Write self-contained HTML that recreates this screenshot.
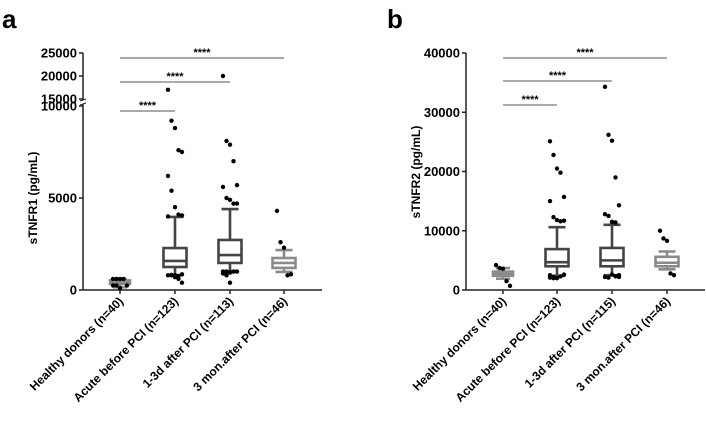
<!DOCTYPE html>
<html><head><meta charset="utf-8"><style>
body{margin:0;background:#fff;}
svg{display:block;font-family:"Liberation Sans",Arial,sans-serif;}
</style></head><body>
<svg id="c" width="706" height="421"></svg>
<script>
const categories=["Healthy donors (n=40)","Acute before PCI (n=123)","1-3d after PCI (n=113)","3 mon.after PCI (n=46)"];
const categoriesB=["Healthy donors (n=40)","Acute before PCI (n=123)","1-3d after PCI (n=115)","3 mon.after PCI (n=46)"];
// [whiskerLow, q1, median, q3, whiskerHigh]
const boxesA=[[150,330,400,520,600],[815,1250,1580,2280,3970],[1030,1470,1900,2720,4400],[980,1200,1470,1740,2170]];
const outliersA=[[600,600,600,600,250,250,250,100],[17000,9200,8800,7600,7500,6200,5400,4500,4100,4050,4000,800,800,750,850,800,820,700,600,400],[20000,8100,7900,7000,5700,5600,5000,4900,4700,4700,1000,1000,950,1000,1000,900,800,400],[4300,2600,2300,800,850]];
const boxesB=[[1900,2400,2700,3100,3700],[2400,4000,4700,6900,10600],[2500,4000,5000,7100,11000],[3500,4000,4600,5600,6500]];
const outliersB=[[4200,3700,3600,1500,700],[25100,22800,20500,19800,15700,15000,12300,11800,11600,11700,2500,2200,2000,2300,2600,2100,2000],[34300,26200,25200,19000,14300,12800,12500,11500,11400,2500,2200,2100,2600,2300,2200],[10000,8700,8300,2800,2500]];
const ticksA=[0,5000,10000,15000,20000,25000];
const ticksB=[0,10000,20000,30000,40000];
const sigA=[[0,3],[0,2],[0,1]];
const sigB=[[0,3],[0,2],[0,1]];
const NS="http://www.w3.org/2000/svg";
const svg=document.getElementById('c');
function mk(t,a,p){const e=document.createElementNS(NS,t);for(const k in a)e.setAttribute(k,a[k]);(p||svg).appendChild(e);return e;}
function yA(v){return v<=10000?290-v*0.0184:99-(v-15000)*0.0046;}
function yB(v){return 290-v*237/40000;}
function panel(letter,lx,axX,axEnd,xs,cats,boxes,outs,ticks,ys,title,sig,sigY){
  const g=mk('g',{});
  
  
  const L=mk('text',{x:lx,y:28,'font-size':26,'font-weight':'bold'},g);L.textContent=letter;
  
  
  const ax=mk('g',{},g);
  
  
  mk('line',{x1:axX,y1:ys(ticks[ticks.length-1]),x2:axX,y2:290,stroke:'#222','stroke-width':1.5},ax);
  ticks.forEach(t=>{const y=ys(t);mk('line',{x1:axX-4,y1:y,x2:axX,y2:y,stroke:'#222','stroke-width':1.5},ax);
    const tx=mk('text',{x:axX-6,y:y+4.5,'font-size':13,'font-weight':'bold','text-anchor':'end'},ax);tx.textContent=t;
    
    });
  if(letter==='a'){mk('rect',{x:axX-3,y:100,width:6,height:4,fill:'#fff'},ax);
    mk('line',{x1:axX-3,y1:101,x2:axX+3,y2:99,stroke:'#222'},ax);mk('line',{x1:axX-3,y1:105,x2:axX+3,y2:103,stroke:'#222'},ax);}
  const yt=mk('text',{x:0,y:0,'font-size':12,'font-weight':'bold','text-anchor':'middle',transform:`translate(${axX-46},${letter==='a'?198:172}) rotate(-90)`},ax);yt.textContent=title;
  
  
  const xa=mk('g',{},g);
  
  
  mk('line',{x1:axX,y1:290,x2:axEnd,y2:290,stroke:'#222','stroke-width':1.5},xa);
  xs.forEach((x,i)=>{mk('line',{x1:x,y1:290,x2:x,y2:294,stroke:'#222','stroke-width':1.5},xa);
    const t=mk('text',{x:0,y:0,'font-size':12,'font-weight':'bold','text-anchor':'end',transform:`translate(${x+4},${302}) rotate(-45)`},xa);t.textContent=cats[i];
    
    });
  boxes.forEach((b,i)=>{const x=xs[i];const col=i===0||i===3?'#8a8a8a':'#444';const w=i===0?20:23;
    const bg=mk('g',{},g);
    
    
    const sw=2.6;
    mk('line',{x1:x,y1:ys(b[0]),x2:x,y2:ys(b[1]),stroke:col,'stroke-width':sw},bg);
    mk('line',{x1:x,y1:ys(b[3]),x2:x,y2:ys(b[4]),stroke:col,'stroke-width':sw},bg);
    mk('line',{x1:x-w/2+3,y1:ys(b[0]),x2:x+w/2-3,y2:ys(b[0]),stroke:col,'stroke-width':sw},bg);
    mk('line',{x1:x-w/2+3,y1:ys(b[4]),x2:x+w/2-3,y2:ys(b[4]),stroke:col,'stroke-width':sw},bg);
    mk('rect',{x:x-w/2,y:ys(b[3]),width:w,height:Math.max(ys(b[1])-ys(b[3]),1),fill:'#fff',stroke:col,'stroke-width':sw},bg);
    mk('line',{x1:x-w/2,y1:ys(b[2]),x2:x+w/2,y2:ys(b[2]),stroke:col,'stroke-width':sw},bg);
    outs[i].forEach((v,j)=>{const off=((j%5)-2)*3.5;
      const c=mk('circle',{cx:x+off,cy:ys(v),r:2.2,fill:'#000'},bg);
      
      });
  });
  sig.forEach((s,k)=>{const y=sigY[k];const sg=mk('g',{},g);
    
    
    mk('line',{x1:xs[s[0]],y1:y,x2:xs[s[1]],y2:y,stroke:'#555','stroke-width':1},sg);
    const t=mk('text',{x:(xs[s[0]]+xs[s[1]])/2,y:y-2,'font-size':11,'font-weight':'bold','text-anchor':'middle'},sg);t.textContent='****';});
}
panel('a',2,83,322,[120,175,230,284],categories,boxesA,outliersA,ticksA,yA,'sTNFR1 (pg/mL)',sigA,[58,82,111]);
panel('b',387,466,705,[503,557,612,667],categoriesB,boxesB,outliersB,ticksB,yB,'sTNFR2 (pg/mL)',sigB,[58,81,105]);
</script>
</body></html>
